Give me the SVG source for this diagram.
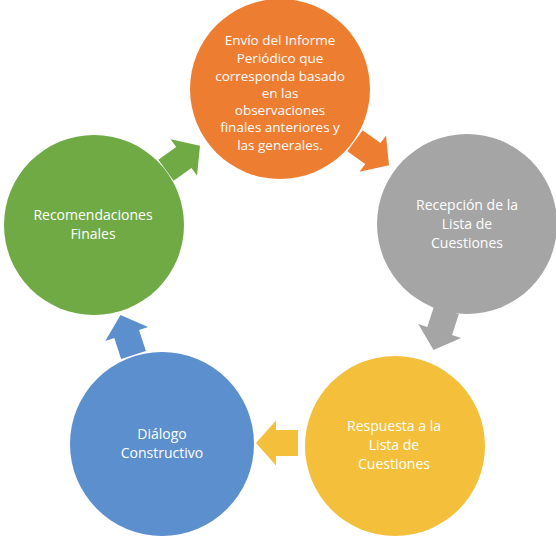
<svg xmlns="http://www.w3.org/2000/svg" width="556" height="538" viewBox="0 0 556 538">
<defs>
<style>
.t{font-family:"Open Sans","Liberation Sans",sans-serif;font-size:14px;fill:#ffffff;text-anchor:middle}
.ts{font-size:13.5px}
</style>
<path id="arr" d="M-21,-13 L1,-13 L1,-22.5 L21,0 L1,22.5 L1,13 L-21,13 Z"/>
</defs>
<rect width="556" height="538" fill="#ffffff"/>
<g id="connectors">
<use href="#arr" transform="translate(372,153) rotate(36)" fill="#ED7D31"/>
<use href="#arr" transform="translate(440,330) rotate(108)" fill="#A5A5A5"/>
<use href="#arr" transform="translate(277,443) rotate(180)" fill="#F4BF3A"/>
<use href="#arr" transform="translate(127,335) rotate(252)" fill="#5B8FCD"/>
<use href="#arr" transform="translate(183,158) rotate(324)" fill="#6FAA45"/>
</g>
<g id="n1">
<circle cx="280" cy="89" r="90" fill="#ED7D31"/>
<text class="t ts" x="280"><tspan x="280" y="45">Envío del Informe</tspan><tspan x="280" y="63">Periódico que</tspan><tspan x="280" y="81">corresponda basado</tspan><tspan x="280" y="98">en las</tspan><tspan x="280" y="115">observaciones</tspan><tspan x="280" y="132">finales anteriores y</tspan><tspan x="280" y="150">las generales.</tspan></text>
</g>
<g id="n2">
<circle cx="467" cy="224" r="90" fill="#A5A5A5"/>
<text class="t"><tspan x="467" y="210">Recepción de la</tspan><tspan x="467" y="229">Lista de</tspan><tspan x="467" y="248">Cuestiones</tspan></text>
</g>
<g id="n3">
<circle cx="395" cy="446" r="90" fill="#F4BF3A"/>
<text class="t"><tspan x="394" y="431">Respuesta a la</tspan><tspan x="394" y="450">Lista de</tspan><tspan x="394" y="469">Cuestiones</tspan></text>
</g>
<g id="n4">
<circle cx="162" cy="444" r="92" fill="#5B8FCD"/>
<text class="t"><tspan x="162" y="439">Diálogo</tspan><tspan x="162" y="458">Constructivo</tspan></text>
</g>
<g id="n5">
<circle cx="94" cy="225" r="90" fill="#6FAA45"/>
<text class="t"><tspan x="93" y="220">Recomendaciones</tspan><tspan x="93" y="239">Finales</tspan></text>
</g>
</svg>
